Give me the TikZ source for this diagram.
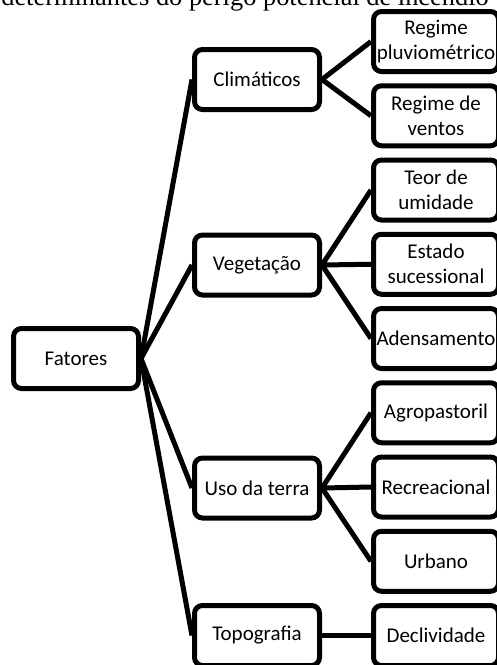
\documentclass[tikz,border=0pt]{standalone}
\usepackage{fontspec}
\setmainfont{Carlito}
\newfontfamily\captionserif{Liberation Serif}
\usetikzlibrary{positioning}

\begin{document}
\begin{tikzpicture}[x=1pt,y=-1pt]
	\tikzstyle{box} = [draw,line width=5pt,rounded corners=8pt,minimum width=125pt,minimum height=60pt,inner sep=0pt,align=center,font=\fontsize{21}{25}\selectfont]
	\tikzstyle{link} = [line width=5pt]
	\useasboundingbox (0,0) rectangle (497,665);

	\node[anchor=base east,inner sep=0pt,font=\captionserif\fontsize{26.4}{30}\selectfont] (Title) at (489,5.5) {determinantes do perigo potencial de incêndio};

	\node[box] (Fatores) at (76,358.5) {Fatores};

	\node[box] (Climaticos) at (257,79.5) {Climáticos};
	\node[box] (Vegetacao) at (257,265) {Vegetação};
	\node[box] (UsoTerra) at (257,488) {Uso da terra};
	\node[box] (Topografia) at (257,635.5) {Topografia};

	\node[box] (Pluvio) at (436,41.5) {Regime\\pluviométrico};
	\node[box,below=9.25pt of Pluvio] (Ventos) {Regime de\\ventos};
	\node[box,below=9.25pt of Ventos] (Umidade) {Teor de\\umidade};
	\node[box,below=9.25pt of Umidade] (Sucessional) {Estado\\sucessional};
	\node[box,below=9.25pt of Sucessional] (Adensamento) {Adensamento};
	\node[box,below=9.25pt of Adensamento] (Agropastoril) {Agropastoril};
	\node[box,below=9.25pt of Agropastoril] (Recreacional) {Recreacional};
	\node[box,below=9.25pt of Recreacional] (Urbano) {Urbano};
	\node[box,below=9.25pt of Urbano] (Declividade) {Declividade};

	\draw[link] (Fatores.east) -- (Climaticos.west);
	\draw[link] (Fatores.east) -- (Vegetacao.west);
	\draw[link] (Fatores.east) -- (UsoTerra.west);
	\draw[link] (Fatores.east) -- (Topografia.west);

	\draw[link] (Climaticos.east) -- (Pluvio.west);
	\draw[link] (Climaticos.east) -- (Ventos.west);
	\draw[link] (Vegetacao.east) -- (Umidade.west);
	\draw[link] (Vegetacao.east) -- (Sucessional.west);
	\draw[link] (Vegetacao.east) -- (Adensamento.west);
	\draw[link] (UsoTerra.east) -- (Agropastoril.west);
	\draw[link] (UsoTerra.east) -- (Recreacional.west);
	\draw[link] (UsoTerra.east) -- (Urbano.west);
	\draw[link] (Topografia.east) -- (Declividade.west);
\end{tikzpicture}
\end{document}
